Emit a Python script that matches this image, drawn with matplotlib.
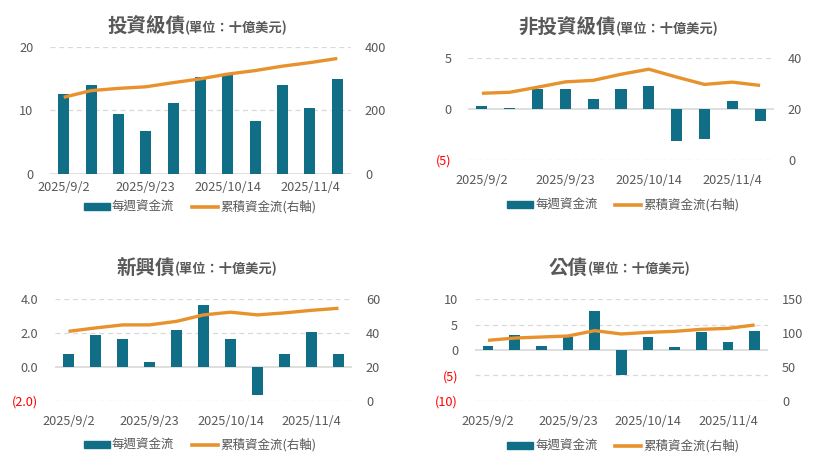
import matplotlib
matplotlib.use("Agg")
import matplotlib.pyplot as plt
from matplotlib.patches import Patch
from matplotlib.lines import Line2D

plt.rcParams['font.family'] = ['Noto Sans CJK TC', 'DejaVu Sans']

# === DATA ===
dates = ["2025/9/2", "2025/9/9", "2025/9/16", "2025/9/23", "2025/9/30", "2025/10/7",
         "2025/10/14", "2025/10/21", "2025/10/28", "2025/11/4", "2025/11/11"]

ig_weekly = [12.6, 14.0, 9.4, 6.8, 11.2, 15.2, 15.5, 8.3, 14.0, 10.4, 14.9]
ig_cum = [241, 262, 269, 274, 287, 299, 314, 325, 339, 350, 363]

hy_weekly = [0.3, 0.1, 2.0, 2.0, 1.0, 2.0, 2.3, -3.2, -3.0, 0.8, -1.15]
hy_cum = [26.2, 26.6, 28.6, 30.7, 31.3, 33.7, 35.7, 32.6, 29.7, 30.6, 29.3]

em_weekly = [0.78, 1.9, 1.67, 0.31, 2.2, 3.67, 1.67, -1.67, 0.78, 2.08, 0.78]
em_cum = [41.1, 43.1, 44.9, 44.9, 47.0, 50.8, 52.4, 50.8, 52.0, 53.5, 54.7]

gov_weekly = [0.8, 3.0, 0.8, 2.6, 7.7, -5.0, 2.6, 0.6, 3.55, 1.6, 3.75]
gov_cum = [89.3, 92.7, 94.2, 95.7, 103.6, 98.7, 101.1, 102.6, 105.6, 107.0, 112.0]

titles = ["投資級債", "非投資級債", "新興債", "公債"]
unit_text = "(單位：十億美元)"
legend_labels = ["每週資金流", "累積資金流(右軸)"]
tick_positions = [0, 3, 6, 9]

BAR = "#106e87"
LINE = "#e8922e"
GRAY = "#595959"
GRID = "#d9d9d9"

W, H = 816, 470
fig = plt.figure(figsize=(W / 100, H / 100), dpi=100)


def px_axes(x0, y_top, x1, y_bot):
    return fig.add_axes([x0 / W, 1 - y_bot / H, (x1 - x0) / W, (y_bot - y_top) / H])


def fmt(v, dec):
    s = f"{abs(v):.{dec}f}"
    return f"({s})" if v < 0 else s


def panel(box, weekly, cum, lticks, rticks, dec, title, title_xy, legend_xy, xpad=10):
    ax = px_axes(*box)
    ax2 = ax.twinx()
    x = list(range(len(weekly)))
    ax.bar(x, weekly, width=0.4, color=BAR, zorder=3)
    ax2.plot(x, cum, color=LINE, linewidth=2.4, solid_capstyle='butt')

    ax.set_xlim(-0.5, len(weekly) - 0.5)
    ax.set_ylim(lticks[0], lticks[-1])
    ax2.set_ylim(rticks[0], rticks[-1])
    ax.set_yticks(lticks)
    ax.set_yticklabels([fmt(v, dec) for v in lticks])
    ax2.set_yticks(rticks)
    ax2.set_yticklabels([str(v) for v in rticks])

    for v in lticks:
        if v == 0:
            ax.axhline(v, color=GRID, linewidth=1.2, zorder=2)
        else:
            ax.axhline(v, color=GRID, linewidth=0.9, linestyle=(0, (4, 3)), zorder=1)

    ax.set_xticks(tick_positions)
    ax.set_xticklabels([dates[i] for i in tick_positions])
    for a in (ax, ax2):
        for s in a.spines.values():
            s.set_visible(False)
        a.tick_params(length=0, labelsize=9.2, colors=GRAY)
    ax.tick_params(axis='y', pad=12)
    ax2.tick_params(axis='y', pad=10)
    ax.tick_params(axis='x', pad=xpad)
    for lab, v in zip(ax.get_yticklabels(), lticks):
        lab.set_color("red" if v < 0 else GRAY)

    tx, ty = title_xy
    fig.text(tx / W, 1 - ty / H, title, ha='right', va='center', fontsize=14,
             fontweight='bold', color=GRAY)
    fig.text(tx / W, 1 - (ty + 1) / H, unit_text, ha='left', va='center', fontsize=9.5,
             fontweight='bold', color=GRAY)

    handles = [Patch(color=BAR), Line2D([0], [0], color=LINE, linewidth=2.6)]
    fig.legend(handles, legend_labels, loc='center', ncol=2, frameon=False,
               bbox_to_anchor=(legend_xy[0] / W, 1 - legend_xy[1] / H),
               fontsize=9, handlelength=2.1, handleheight=0.55, columnspacing=1.4,
               handletextpad=0.15, labelcolor=GRAY)


panel((50, 46.7, 351, 174), ig_weekly, ig_cum, [0, 10, 20], [0, 200, 400], 0,
      titles[0], (185, 27), (200, 207), xpad=5)
panel((468, 58.3, 774, 159.7), hy_weekly, hy_cum, [-5, 0, 5], [0, 20, 40], 0,
      titles[1], (616, 28), (623, 205))
panel((55, 299.3, 352, 401), em_weekly, em_cum, [-2, 0, 2, 4], [0, 20, 40, 60], 1,
      titles[2], (175, 268), (200, 445))
panel((474.7, 299.3, 768, 400.7), gov_weekly, gov_cum, [-10, -5, 0, 5, 10],
      [0, 50, 100, 150], 0, titles[3], (588, 268), (623, 446))

fig.savefig("out.png", dpi=100)
